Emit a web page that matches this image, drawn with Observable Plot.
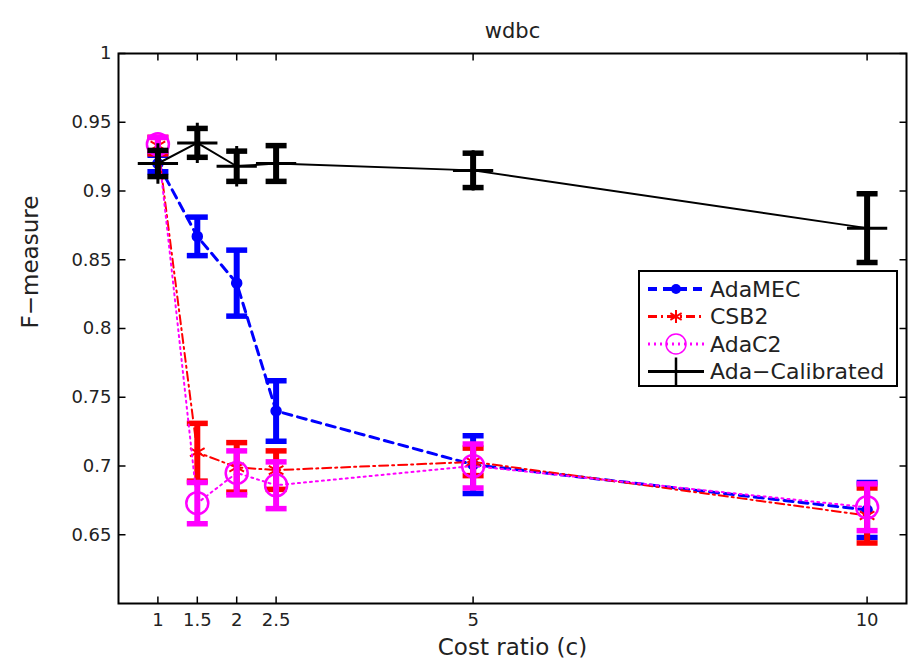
<!DOCTYPE html>
<html>
<head>
<meta charset="utf-8">
<script src="https://cdn.jsdelivr.net/npm/d3@7"></script>
<script src="https://cdn.jsdelivr.net/npm/@observablehq/plot@0.6"></script>
<style>
  body { margin: 0; background: #fff; }
  #wrap { position: relative; width: 911px; height: 668px; font-family: "DejaVu Sans", sans-serif; }
  #legend { position: absolute; left: 638px; top: 270px; }
</style>
</head>
<body>
<div id="wrap"></div>
<script>
// ---- data ----
const costRatio = [1, 1.5, 2, 2.5, 5, 10];
const seriesNames = ["AdaMEC", "CSB2", "AdaC2", "Ada−Calibrated"];
const adaMEC    = [0.920, 0.867, 0.833, 0.740, 0.701, 0.668];
const adaMECErr = [0.006, 0.014, 0.024, 0.022, 0.021, 0.020];
const csb2      = [0.933, 0.710, 0.699, 0.697, 0.703, 0.664];
const csb2Err   = [0.006, 0.021, 0.018, 0.014, 0.010, 0.020];
const adaC2     = [0.934, 0.673, 0.695, 0.686, 0.700, 0.670];
const adaC2Err  = [0.005, 0.015, 0.016, 0.017, 0.016, 0.017];
const adaCal    = [0.920, 0.935, 0.918, 0.920, 0.915, 0.873];
const adaCalErr = [0.0095, 0.0105, 0.011, 0.013, 0.0125, 0.025];
const xTicks = [1, 1.5, 2, 2.5, 5, 10];
const yTicks = [0.65, 0.7, 0.75, 0.8, 0.85, 0.9, 0.95, 1];
const title = "wdbc";
const xLabel = "Cost ratio (c)";
const yLabel = "F−measure";

// ---- styles ----
const styles = {
  "AdaMEC":         {color: "#0000ff", dash: "9,6",     width: 3},
  "CSB2":           {color: "#ff0000", dash: "9,4,2,4", width: 2},
  "AdaC2":          {color: "#ff00ff", dash: "2,4",     width: 2},
  "Ada−Calibrated": {color: "#000000", dash: null,      width: 2}
};

const values = [adaMEC, csb2, adaC2, adaCal];
const errs = [adaMECErr, csb2Err, adaC2Err, adaCalErr];
const tables = seriesNames.map((name, i) =>
  costRatio.map((c, j) => ({series: name, x: c, y: values[i][j], lo: values[i][j] - errs[i][j], hi: values[i][j] + errs[i][j]}))
);

const capSymbol = {
  draw(ctx, size) {
    const w = Math.sqrt(size / Math.PI);
    ctx.moveTo(-w, 0);
    ctx.lineTo(w, 0);
  }
};
// short tick glyphs for inward ticks (length = 2r)
const vTick = {draw(ctx, size) { const w = Math.sqrt(size / Math.PI); ctx.moveTo(0, -w); ctx.lineTo(0, w); }};
const hTick = {draw(ctx, size) { const w = Math.sqrt(size / Math.PI); ctx.moveTo(-w, 0); ctx.lineTo(w, 0); }};

const markerFor = (name, data) => {
  const s = styles[name];
  if (name === "AdaMEC") return Plot.dot(data, {x: "x", y: "y", r: 5, fill: s.color, stroke: s.color});
  if (name === "CSB2") return Plot.dot(data, {x: "x", y: "y", r: 8, symbol: "asterisk", stroke: s.color, strokeWidth: 2});
  if (name === "AdaC2") return Plot.dot(data, {x: "x", y: "y", r: 11, fill: "none", stroke: s.color, strokeWidth: 2.5});
  return Plot.dot(data, {x: "x", y: "y", r: 13, symbol: "plus", stroke: s.color, strokeWidth: 3});
};

const seriesMarks = seriesNames.flatMap((name, i) => {
  const s = styles[name];
  const data = tables[i];
  return [
    Plot.line(data, {x: "x", y: "y", stroke: s.color, strokeWidth: s.width, strokeDasharray: s.dash}),
    Plot.ruleX(data, {x: "x", y1: "lo", y2: "hi", stroke: s.color, strokeWidth: 6}),
    Plot.dot(data, {x: "x", y: "lo", symbol: capSymbol, r: 10.5, stroke: s.color, strokeWidth: 5.5}),
    Plot.dot(data, {x: "x", y: "hi", symbol: capSymbol, r: 10.5, stroke: s.color, strokeWidth: 5.5}),
    markerFor(name, data)
  ];
});

const fontTick = 18;
const tickLen = 3.5;
const chart = Plot.plot({
  width: 911,
  height: 668,
  marginLeft: 118,
  marginRight: 5,
  marginTop: 53,
  marginBottom: 65,
  style: {fontFamily: "DejaVu Sans, sans-serif", background: "#fff", color: "#222"},
  x: {domain: [0.5, 10.5]},
  y: {domain: [0.6, 1]},
  marks: [
    // tick labels
    Plot.axisX({ticks: xTicks, tickSize: 0, tickPadding: 10, fontSize: fontTick, label: null, tickFormat: d => String(d)}),
    Plot.axisY({ticks: yTicks, tickSize: 0, tickPadding: 7, fontSize: fontTick, label: null, tickFormat: d => String(d)}),
    // inward tick marks on all four sides
    Plot.dot(xTicks, {x: d => d, frameAnchor: "bottom", dy: -tickLen, symbol: vTick, r: tickLen, stroke: "#000", strokeWidth: 1.5}),
    Plot.dot(xTicks, {x: d => d, frameAnchor: "top", dy: tickLen, symbol: vTick, r: tickLen, stroke: "#000", strokeWidth: 1.5}),
    Plot.dot(yTicks, {y: d => d, frameAnchor: "left", dx: tickLen, symbol: hTick, r: tickLen, stroke: "#000", strokeWidth: 1.5}),
    Plot.dot(yTicks, {y: d => d, frameAnchor: "right", dx: -tickLen, symbol: hTick, r: tickLen, stroke: "#000", strokeWidth: 1.5}),
    ...seriesMarks,
    Plot.frame({stroke: "#000", strokeWidth: 2}),
    Plot.text([title], {frameAnchor: "top", dy: -30, fontSize: 21, fill: "#222"}),
    Plot.text([xLabel], {frameAnchor: "bottom", dy: 51, fontSize: 23, fill: "#222"}),
    Plot.text([yLabel], {frameAnchor: "left", dx: -88, rotate: -90, fontSize: 23, fill: "#222"})
  ]
});

const wrap = document.getElementById("wrap");
wrap.appendChild(chart);

// ---- legend ----
const lw = 260, lh = 117;
const legend = d3.create("svg").attr("id", "legend").attr("width", lw).attr("height", lh)
  .style("font-family", "DejaVu Sans, sans-serif");
legend.append("rect").attr("x", 1).attr("y", 1).attr("width", lw - 2).attr("height", lh - 2)
  .attr("fill", "#fff").attr("stroke", "#000").attr("stroke-width", 2);
const rowY = (i) => 19 + i * 27.5;
seriesNames.forEach((name, i) => {
  const s = styles[name];
  const g = legend.append("g").attr("transform", `translate(0,${rowY(i)})`);
  g.append("line").attr("x1", 10).attr("x2", 66).attr("y1", 0).attr("y2", 0)
    .attr("stroke", s.color).attr("stroke-width", s.width + 1).attr("stroke-dasharray", s.dash);
  const cx = 38;
  if (name === "AdaMEC") g.append("circle").attr("cx", cx).attr("cy", 0).attr("r", 5).attr("fill", s.color);
  else if (name === "CSB2") g.append("path").attr("d", d3.symbol(d3.symbolAsterisk, 120)()).attr("transform", `translate(${cx},0)`).attr("stroke", s.color).attr("stroke-width", 2).attr("fill", "none");
  else if (name === "AdaC2") g.append("circle").attr("cx", cx).attr("cy", 0).attr("r", 10).attr("fill", "none").attr("stroke", s.color).attr("stroke-width", 1.5);
  else g.append("path").attr("d", `M${cx - 13},0H${cx + 13}M${cx},-14V14`).attr("stroke", s.color).attr("stroke-width", 2.5);
  g.append("text").attr("x", 72).attr("y", 0).attr("dy", "0.35em").attr("font-size", 22).attr("fill", "#222").text(name);
});
wrap.appendChild(legend.node());
</script>
</body>
</html>
